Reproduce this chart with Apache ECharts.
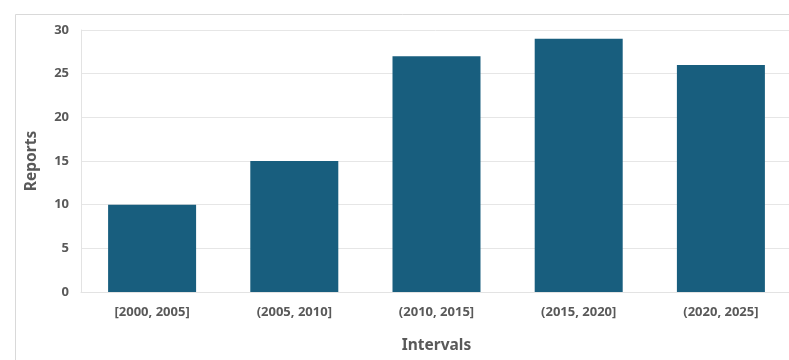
<!DOCTYPE html>
<html>
<head>
<meta charset="utf-8">
<script src="https://cdn.jsdelivr.net/npm/echarts@6/dist/echarts.min.js"></script>
<style>
  html, body { margin: 0; padding: 0; background: #ffffff; }
  #chart { width: 789px; height: 360px; }
</style>
</head>
<body>
<div id="chart"></div>
<script>
// Reports per five-year interval
const categories = ['[2000, 2005]', '(2005, 2010]', '(2010, 2015]', '(2015, 2020]', '(2020, 2025]'];
const reports = [10, 15, 27, 29, 26];
const yMin = 0;
const yMax = 30;
const yStep = 5;

const labelFont = '"Noto Sans", "Open Sans", sans-serif';
const textColor = '#595959';

const chart = echarts.init(document.getElementById('chart'), null, { renderer: 'canvas' });

chart.setOption({
  animation: false,
  backgroundColor: '#ffffff',
  graphic: [{
    type: 'rect',
    left: 13,
    top: 12,
    shape: { width: 820, height: 400 },
    style: { fill: 'none', stroke: '#d9d9d9', lineWidth: 1 },
    silent: true,
    z: -1
  }],
  grid: {
    left: 81,
    top: 30,
    width: 711,
    height: 262,
    containLabel: false,
    outerBoundsMode: 'none'
  },
  xAxis: {
    type: 'category',
    data: categories,
    name: 'Intervals',
    nameLocation: 'middle',
    nameGap: 46,
    nameTextStyle: { fontFamily: labelFont, fontSize: 15.5, fontWeight: 'bold', color: textColor },
    axisLine: { show: true, lineStyle: { color: '#e3e3e3', width: 1 } },
    axisTick: { show: false },
    axisLabel: {
      margin: 14,
      fontFamily: labelFont,
      fontSize: 13,
      fontWeight: 'bold',
      color: textColor
    }
  },
  yAxis: {
    type: 'value',
    min: yMin,
    max: yMax,
    interval: yStep,
    name: 'Reports',
    nameLocation: 'middle',
    nameGap: 41,
    nameRotate: 90,
    nameTextStyle: { fontFamily: labelFont, fontSize: 15.5, fontWeight: 'bold', color: textColor },
    axisLine: { show: true, lineStyle: { color: '#e3e3e3', width: 1 } },
    axisTick: { show: false },
    axisLabel: {
      margin: 12,
      fontFamily: labelFont,
      fontSize: 13,
      fontWeight: 'bold',
      color: textColor
    },
    splitLine: { show: true, lineStyle: { color: '#e6e6e6', width: 1 } }
  },
  series: [{
    type: 'bar',
    data: reports,
    barWidth: 88,
    itemStyle: { color: '#185e7e' }
  }]
});
</script>
</body>
</html>
